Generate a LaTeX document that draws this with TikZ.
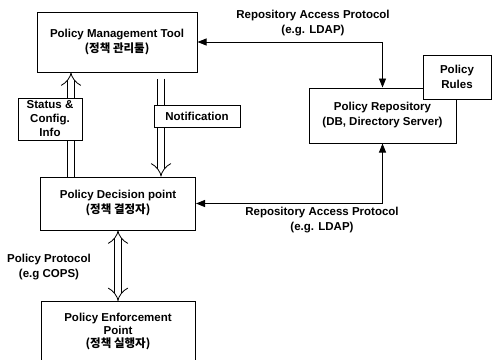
\documentclass[tikz,border=0pt]{standalone}
\usepackage{fontspec}
\setmainfont{Liberation Sans}
\newfontfamily\kr{Noto Sans CJK KR}
\usepackage{tikz}
\usetikzlibrary{arrows.meta, backgrounds}

\begin{document}
\begin{tikzpicture}[
		x=1pt, y=-1pt,
		line width=0.8pt,
		every node/.style={font=\bfseries\fontsize{11.5}{15}\selectfont, align=center},
		box/.style={draw, line width=1pt, fill=white, inner sep=2pt},
		link/.style={{Triangle[length=9pt, width=7pt]}-{Triangle[length=9pt, width=7pt]}},
		hollow/.style={double, double distance=6.5pt, line width=0.8pt}
		]
	
	\useasboundingbox (0, 0) rectangle (492, 359);
	\clip (0, 0) rectangle (492, 359);
	
	% Management tool
	\node[box, minimum width=160, minimum height=60] (pmt) at (117, 42)
		{Policy Management Tool\\{\kr (정책 관리툴)}};
	
	% Decision point
	\node[box, minimum width=155, minimum height=53] (pdp) at (118, 203.5)
		{Policy Decision point\\{\kr (정책 결정자)}};
	
	% Enforcement point (runs off the bottom)
	\node[box, minimum width=154, minimum height=60, anchor=north,
		font=\bfseries\fontsize{11.5}{13}\selectfont] (pep) at (118, 301)
		{Policy Enforcement\\Point\\{\kr (정책 실행자)}};
	
	% Repository and rules
	\node[box, minimum width=147, minimum height=55] (repo) at (382.5, 115.5)
		{Policy Repository\\(DB, Directory Server)};
	\node[box, minimum width=68, minimum height=44] (rules) at (457, 77)
		{Policy\\Rules};
	
	% Boxes sitting on the hollow arrows
	\node[box, minimum width=64, minimum height=42, inner sep=1pt,
		font=\bfseries\fontsize{11.5}{14}\selectfont] (status) at (50, 119)
		{Status \&\\Config.\\Info};
	\node[box, minimum width=86, minimum height=22] (notif) at (197, 116)
		{Notification};
	
	% Hollow arrows
	\begin{scope}[on background layer]
		\draw[hollow, -{Implies}] ([xshift=-47pt]pdp.north) -- ([xshift=-47pt]pdp.north |- pmt.south);
		\draw[hollow, -{Implies}, shorten <=6pt] ([xshift=44pt]pmt.south) -- ([xshift=44pt]pmt.south |- pdp.north);
		\draw[hollow, {Implies}-{Implies}] (pdp.south) -- (pep.north);
	\end{scope}
	
	% Access protocol links
	\draw[link] (repo.north) |- (pmt.east);
	\draw[link] (repo.south) |- (pdp.east);
	
	% Link labels
	\node (toplabel) at (313, 23) {Repository Access Protocol\\(e.g. LDAP)};
	\node (botlabel) at (322, 220) {Repository Access Protocol\\(e.g. LDAP)};
	\node (pplabel) at (49, 267) {Policy Protocol\\(e.g COPS)};
	
\end{tikzpicture}
\end{document}
